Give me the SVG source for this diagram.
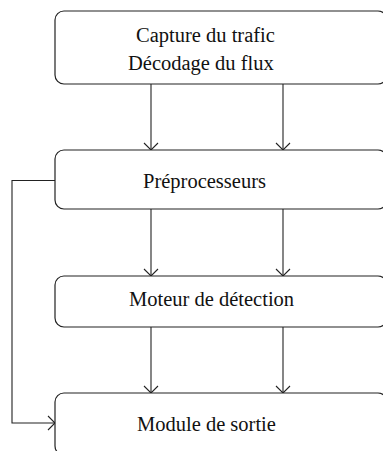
<svg xmlns="http://www.w3.org/2000/svg" width="383" height="451" viewBox="0 0 383 451">
<style>
.box{fill:#fff;stroke:#222;stroke-width:1.2}
.t{font-family:"Liberation Serif",serif;font-size:20.5px;fill:#111}
.c{fill:none;stroke:#222;stroke-width:1.1}
</style>
<defs>
<marker id="ah" markerWidth="16" markerHeight="16" refX="8" refY="8" orient="auto" markerUnits="userSpaceOnUse">
<path d="M1,1 L8,8 L1,15" fill="none" stroke="#222" stroke-width="1.1"/>
</marker>
</defs>
<g id="connectors">
<line class="c" x1="151" y1="84" x2="151" y2="150" marker-end="url(#ah)"/>
<line class="c" x1="283" y1="84" x2="283" y2="150" marker-end="url(#ah)"/>
<line class="c" x1="151" y1="209" x2="151" y2="276" marker-end="url(#ah)"/>
<line class="c" x1="283" y1="209" x2="283" y2="276" marker-end="url(#ah)"/>
<line class="c" x1="151" y1="327" x2="151" y2="393" marker-end="url(#ah)"/>
<line class="c" x1="283" y1="327" x2="283" y2="393" marker-end="url(#ah)"/>
<polyline class="c" points="55,180.5 12,180.5 12,423 55,423" marker-end="url(#ah)"/>
</g>
<g id="capture">
<rect class="box" x="55" y="11" width="332" height="73" rx="9"/>
<text class="t" x="136" y="42">Capture du trafic</text>
<text class="t" x="128" y="70">Décodage du flux</text>
</g>
<g id="preprocesseurs">
<rect class="box" x="55" y="150" width="332" height="59" rx="9"/>
<text class="t" x="143" y="188">Préprocesseurs</text>
</g>
<g id="moteur">
<rect class="box" x="55" y="276" width="332" height="51" rx="9"/>
<text class="t" x="129" y="305.5">Moteur de détection</text>
</g>
<g id="sortie">
<rect class="box" x="55" y="393" width="332" height="62" rx="9"/>
<text class="t" x="137" y="430.5">Module de sortie</text>
</g>
</svg>
